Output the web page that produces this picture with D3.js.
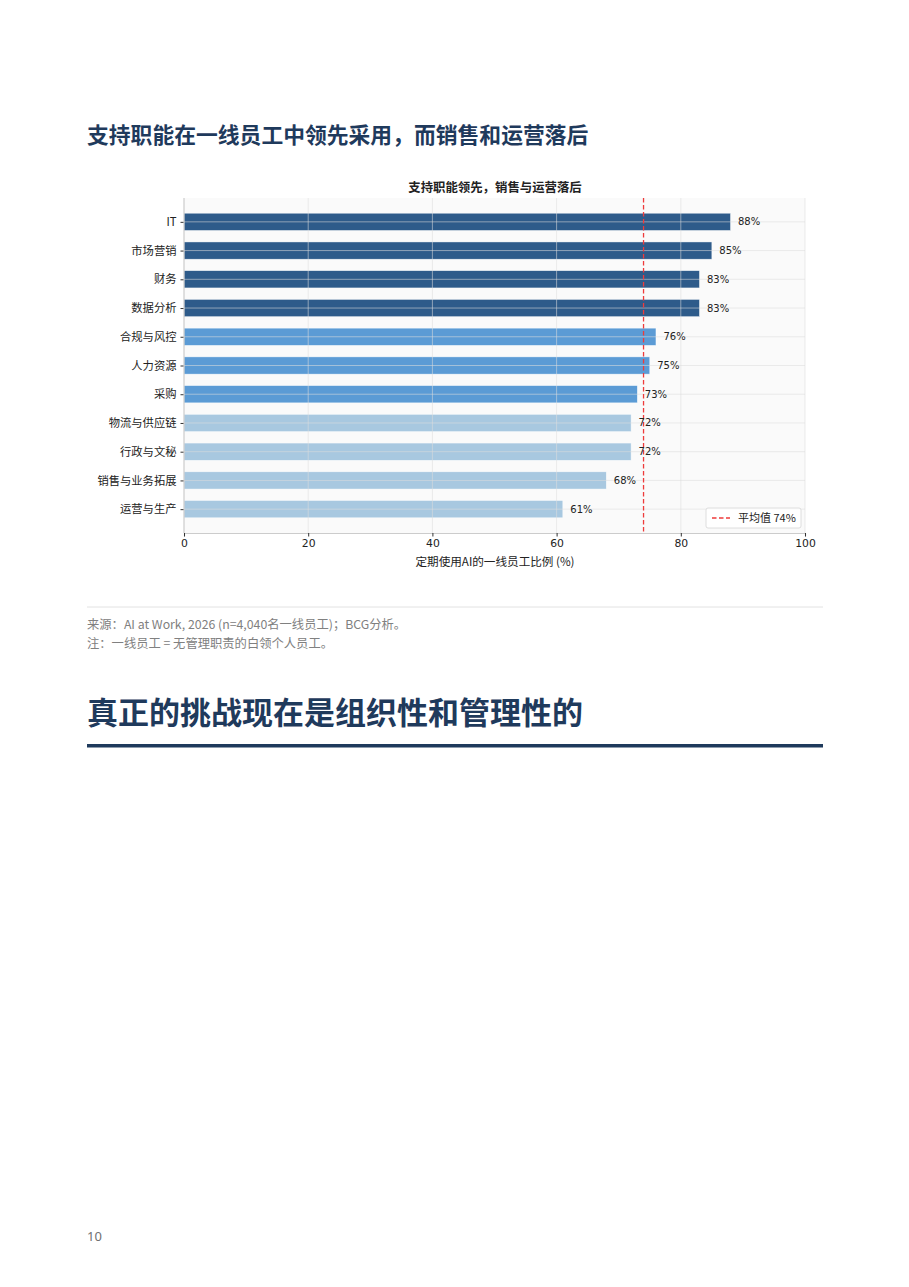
<!DOCTYPE html>
<html><head><meta charset="utf-8">
<script src="https://cdn.jsdelivr.net/npm/d3@7"></script>
<style>
html,body{margin:0;padding:0;background:#fff;}
svg{display:block;}
</style></head>
<body>
<svg id="page" width="909" height="1287"></svg>
<script>
const categories = ["IT","市场营销","财务","数据分析","合规与风控","人力资源","采购","物流与供应链","行政与文秘","销售与业务拓展","运营与生产"];
const values = [88,85,83,83,76,75,73,72,72,68,61];
const tiers = ["high","high","high","high","mid","mid","mid","low","low","low","low"];
const tierColors = {high:"#2e5b8a", mid:"#5b9bd5", low:"#a8c8e0"};
const xTicks = [0,20,40,60,80,100];
const average = 74;
const pageTitle = "支持职能在一线员工中领先采用，而销售和运营落后";
const chartTitle = "支持职能领先，销售与运营落后";
const xLabel = "定期使用AI的一线员工比例 (%)";
const legendLabel = "平均值 74%";
const sourceLines = ["来源：AI at Work, 2026 (n=4,040名一线员工)；BCG分析。","注：一线员工 = 无管理职责的白领个人员工。"];
const heading = "真正的挑战现在是组织性和管理性的";
const pageNumber = "10";

const CJK = "'Noto Sans CJK SC','Noto Sans',sans-serif";
const NUM = "'DejaVu Sans','Noto Sans CJK SC',sans-serif";
const svg = d3.select("#page");

// page title
svg.append("text").attr("x",87).attr("y",143).attr("font-family",CJK).attr("font-weight",700)
  .attr("font-size",21.8).attr("fill","#1f3a5c").text(pageTitle);

// chart geometry
const L = 184, R = 805, T = 198, B = 533;
const x = d3.scaleLinear().domain([0,100]).range([L,R]);
const y = d3.scaleLinear().domain([-0.83, categories.length-1+0.83]).range([T,B]);
const barH = (y(0.3)-y(-0.3));

const g = svg.append("g");
g.append("rect").attr("x",L).attr("y",T).attr("width",R-L).attr("height",B-T).attr("fill","#fafafa");

// chart title
g.append("text").attr("x",495).attr("y",192).attr("text-anchor","middle")
  .attr("font-family",CJK).attr("font-weight",700)
  .attr("font-size",12.4).attr("fill","#222").text(chartTitle);

// bars
g.selectAll("rect.bar").data(categories).join("rect").attr("class","bar")
  .attr("x",x(0)).attr("y",(d,i)=>y(i)-barH/2)
  .attr("width",(d,i)=>x(values[i])-x(0)).attr("height",barH)
  .attr("fill",(d,i)=>tierColors[tiers[i]]).attr("stroke","#ffffff").attr("stroke-width",0.6).attr("stroke-opacity",0.7);

// grid over bars
const grid = g.append("g").attr("stroke","#dddddd").attr("stroke-opacity",0.7).attr("stroke-width",0.8);
grid.selectAll("line.v").data(xTicks.slice(1)).join("line")
  .attr("x1",d=>x(d)).attr("x2",d=>x(d)).attr("y1",T).attr("y2",B);
grid.selectAll("line.h").data(categories).join("line")
  .attr("x1",L).attr("x2",R).attr("y1",(d,i)=>y(i)).attr("y2",(d,i)=>y(i));

// average line
g.append("line").attr("x1",x(average)).attr("x2",x(average)).attr("y1",T).attr("y2",B)
  .attr("stroke","#ee3b3b").attr("stroke-width",1.3).attr("stroke-dasharray","4.5,2.5");

// value labels
g.selectAll("text.val").data(categories).join("text").attr("class","val")
  .attr("x",(d,i)=>x(values[i])+7.5).attr("y",(d,i)=>y(i)).attr("dy","0.35em")
  .attr("font-family",NUM).attr("font-size",10).attr("fill","#222")
  .text((d,i)=>values[i]+"%");

// axes
const xAxis = d3.axisBottom(x).tickValues(xTicks).tickSize(3.5).tickPadding(3);
const xg = g.append("g").attr("transform",`translate(0,${B})`).call(xAxis);
xg.select(".domain").attr("stroke","#cccccc").attr("stroke-width",1.2);
xg.selectAll(".tick line").attr("stroke","#333");
xg.selectAll(".tick text").attr("font-family",NUM).attr("font-size",10.8).attr("fill","#222");

const yBand = d3.scalePoint().domain(categories).range([y(0),y(categories.length-1)]);
const yAxis = d3.axisLeft(yBand).tickSize(3.5).tickPadding(4);
const yg = g.append("g").attr("transform",`translate(${L},0)`).call(yAxis);
yg.select(".domain").remove();
g.append("line").attr("x1",L).attr("x2",L).attr("y1",T).attr("y2",B).attr("stroke","#cccccc").attr("stroke-width",1.2);
yg.selectAll(".tick line").attr("stroke","#333");
yg.selectAll(".tick text").attr("font-family",CJK).attr("font-size",11.3).attr("fill","#222");

// x label
g.append("text").attr("x",495).attr("y",566).attr("text-anchor","middle")
  .attr("font-family",CJK).attr("font-size",11.6).attr("fill","#222").text(xLabel);

// legend
const lg = g.append("g");
lg.append("rect").attr("x",706).attr("y",508).attr("width",95).attr("height",20).attr("rx",2)
  .attr("fill","#ffffff").attr("fill-opacity",0.85).attr("stroke","#d6d6d6").attr("stroke-width",0.8);
lg.append("line").attr("x1",712).attr("x2",730).attr("y1",518).attr("y2",518)
  .attr("stroke","#ee3b3b").attr("stroke-width",1.3).attr("stroke-dasharray","4.5,2.5");
lg.append("text").attr("x",738).attr("y",518).attr("dy","0.35em").attr("font-family",CJK)
  .attr("font-size",11).attr("fill","#222").text(legendLabel);

// separator & sources
svg.append("line").attr("x1",87).attr("x2",823).attr("y1",607).attr("y2",607).attr("stroke","#e2e2e2").attr("stroke-width",1);
svg.selectAll("text.src").data(sourceLines).join("text").attr("class","src")
  .attr("x",87).attr("y",(d,i)=>629+i*19).attr("font-family",CJK).attr("font-size",12.3)
  .attr("fill","#808080").text(d=>d);

// heading
svg.append("text").attr("x",87).attr("y",724).attr("font-family",CJK).attr("font-weight",700)
  .attr("font-size",31).attr("fill","#1f3a5c").text(heading);
svg.append("rect").attr("x",87).attr("y",744).attr("width",736).attr("height",3.5).attr("fill","#1f3a5c");

// page number
svg.append("text").attr("x",87).attr("y",1241).attr("font-family","'Noto Sans',sans-serif")
  .attr("font-size",13).attr("fill","#707070").text(pageNumber);
</script>
</body></html>
